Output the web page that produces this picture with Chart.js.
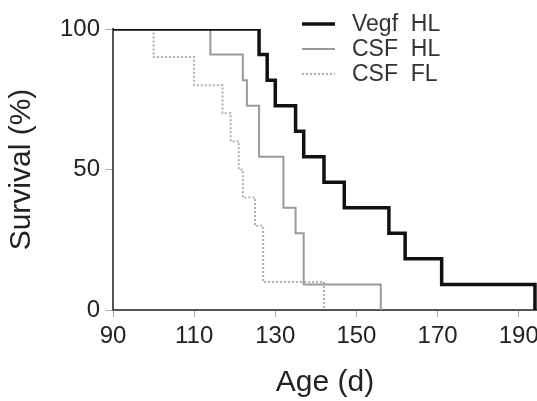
<!DOCTYPE html>
<html>
<head>
<meta charset="utf-8">
<script src="https://cdn.jsdelivr.net/npm/chart.js@4.4.1/dist/chart.umd.min.js"></script>
<style>
  body { margin: 0; background: #fff; }
  canvas { display: block; }
</style>
</head>
<body>
<canvas id="survChart" width="537" height="401"></canvas>
<script>
// Kaplan-Meier steps: day of event, survival (%) after it
const vegfDays = [90, 126, 128, 130, 135, 137, 142, 147, 158, 162, 171, 194];
const vegfSurv = [100, 90.9, 81.8, 72.7, 63.6, 54.5, 45.5, 36.4, 27.3, 18.2, 9.1, 0];

const csfHlDays = [90, 114, 122, 123, 126, 132, 135, 137, 156];
const csfHlSurv = [100, 90.9, 81.8, 72.7, 54.5, 36.4, 27.3, 9.1, 0];

const csfFlDays = [90, 100, 110, 117, 119, 121, 122, 125, 127, 142];
const csfFlSurv = [100, 90, 80, 70, 60, 50, 40, 30, 10, 0];

const seriesLabels = ['Vegf  HL', 'CSF  HL', 'CSF  FL'];
const xTicks = [90, 110, 130, 150, 170, 190];
const yTicks = [0, 50, 100];

const toPoints = (days, surv) => days.map((d, i) => ({ x: d, y: surv[i] }));

Chart.defaults.font.family = '"Liberation Sans", Arial, sans-serif';
Chart.defaults.color = '#222';

// legend drawn by hand, top right inside the plot
const stackedLegend = {
  id: 'stackedLegend',
  afterDraw(chart) {
    const ctx = chart.ctx;
    const rows = [24, 49, 74];
    ctx.save();
    chart.data.datasets.forEach((ds, i) => {
      const y = rows[i];
      ctx.beginPath();
      ctx.strokeStyle = ds.borderColor;
      ctx.lineWidth = ds.borderWidth;
      ctx.setLineDash(ds.borderDash || []);
      ctx.moveTo(302, y);
      ctx.lineTo(335, y);
      ctx.stroke();
      ctx.setLineDash([]);
      ctx.fillStyle = '#333';
      ctx.font = '23px "Liberation Sans", Arial, sans-serif';
      ctx.textBaseline = 'middle';
      ctx.fillText(ds.label, 352, y + 1);
    });
    ctx.restore();
  }
};

new Chart(document.getElementById('survChart'), {
  type: 'line',
  data: {
    datasets: [
      {
        label: seriesLabels[0],
        data: toPoints(vegfDays, vegfSurv),
        borderColor: '#111',
        borderWidth: 3.5,
        stepped: 'before',
        pointRadius: 0
      },
      {
        label: seriesLabels[1],
        data: toPoints(csfHlDays, csfHlSurv),
        borderColor: '#9a9a9a',
        borderWidth: 2,
        stepped: 'before',
        pointRadius: 0
      },
      {
        label: seriesLabels[2],
        data: toPoints(csfFlDays, csfFlSurv),
        borderColor: '#b0b0b0',
        borderWidth: 2,
        borderDash: [2, 2],
        stepped: 'before',
        pointRadius: 0
      }
    ]
  },
  options: {
    responsive: false,
    animation: false,
    layout: { padding: { top: 29, right: 0, bottom: 0, left: 0 } },
    plugins: {
      legend: { display: false },
      tooltip: { enabled: false }
    },
    scales: {
      x: {
        type: 'linear',
        min: 90,
        max: 194.5,
        afterBuildTicks: s => { s.ticks = xTicks.map(v => ({ value: v })); },
        afterFit: s => { s.height = 91; s.paddingRight = 0; s.paddingLeft = 0; },
        grid: { drawOnChartArea: false, tickLength: 7, color: '#aaa' },
        border: { color: '#555', width: 2 },
        ticks: { font: { size: 24 }, color: '#222', padding: 5, maxRotation: 0, autoSkip: false },
        title: { display: true, text: 'Age (d)', font: { size: 30 }, color: '#222', padding: 0 }
      },
      y: {
        min: 0,
        max: 100,
        afterBuildTicks: s => { s.ticks = yTicks.map(v => ({ value: v })); },
        afterFit: s => { s.width = 113; },
        grid: { drawOnChartArea: false, tickLength: 7, color: '#aaa' },
        border: { color: '#555', width: 2 },
        ticks: { font: { size: 24 }, color: '#222', padding: 6 },
        title: { display: true, text: 'Survival (%)', font: { size: 30 }, color: '#222', padding: { top: 4, bottom: 0 } }
      }
    }
  },
  plugins: [stackedLegend]
});
</script>
</body>
</html>
